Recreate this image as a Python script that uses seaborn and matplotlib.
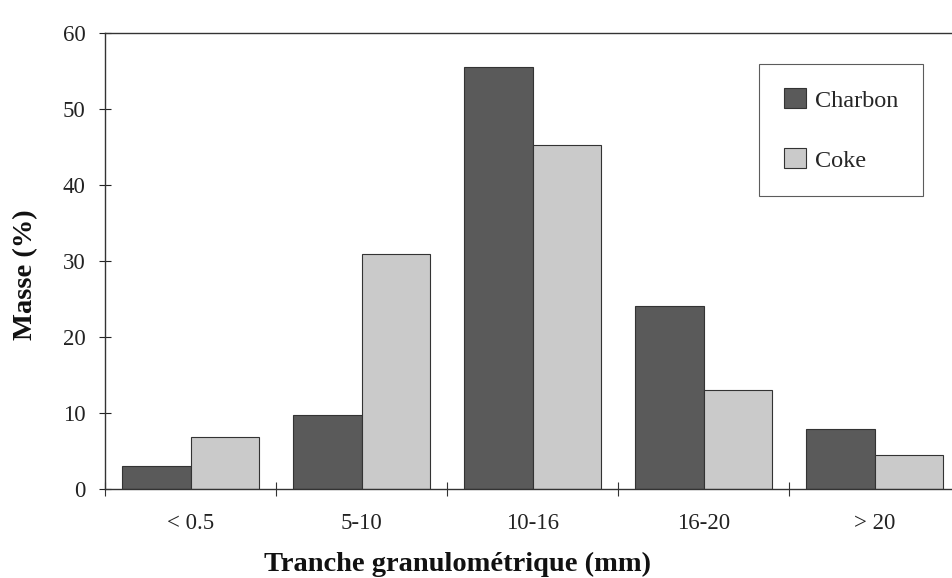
import matplotlib
matplotlib.use("Agg")
import matplotlib.pyplot as plt
import seaborn as sns
import pandas as pd

categories = ["< 0.5", "5-10", "10-16", "16-20", "> 20"]
charbon = [3.0, 9.7, 55.5, 24.1, 7.9]
coke = [6.8, 30.9, 45.3, 13.0, 4.5]
series = ["Charbon", "Coke"]

df = pd.DataFrame({
    "cat": categories * 2,
    "val": charbon + coke,
    "serie": [series[0]] * len(categories) + [series[1]] * len(categories),
})

sns.set_theme(style="white")
plt.rcParams["font.family"] = ["Liberation Serif", "DejaVu Serif"]

fig = plt.figure(figsize=(9.52, 5.78), dpi=100)
ax = fig.add_axes([105/952, 1-489/578, (960-105)/952, (489-33)/578])

sns.barplot(data=df, x="cat", y="val", hue="serie", order=categories,
            hue_order=series, palette=["#5a5a5a", "#cacaca"], width=0.8,
            edgecolor="#333333", linewidth=0.8, saturation=1, ax=ax,
            legend=True)

ax.set_ylim(0, 60)
ax.set_xlim(-0.5, 4.5)
ax.set_yticks([0, 10, 20, 30, 40, 50, 60])
ax.tick_params(axis="y", direction="inout", length=8, width=0.8, labelsize=16.5,
               colors="#222222", left=True, pad=10)
ax.set_xticks(range(len(categories)))
ax.set_xticklabels(categories)
ax.tick_params(axis="x", length=0, labelsize=16.5, pad=17, colors="#222222")
ax.set_xticks([i - 0.5 for i in range(len(categories) + 1)], minor=True)
ax.tick_params(axis="x", which="minor", direction="inout", length=10, width=0.8,
               bottom=True, color="#333333")

for s in ["left", "bottom", "top"]:
    ax.spines[s].set_visible(True)
    ax.spines[s].set_color("#333333")
    ax.spines[s].set_linewidth(1.0)
ax.spines["right"].set_visible(False)

ax.set_xlabel("Tranche granulométrique (mm)", fontsize=20.5, fontweight="bold",
              color="#111111", va="center")
ax.xaxis.set_label_coords((458-105)/855, (489-564)/456)
ax.set_ylabel("Masse (%)", fontsize=20.5, fontweight="bold", color="#111111")
ax.yaxis.set_label_coords((38-105)/855, (489-275)/456)

leg = ax.legend(loc="upper right", bbox_to_anchor=((923-105)/855, 1-(64-33)/456),
                fontsize=17.5, frameon=True, fancybox=False, edgecolor="#333333",
                handlelength=0.9, handleheight=0.9, labelspacing=1.5,
                borderpad=1.0, handletextpad=0.4, borderaxespad=0)
leg.get_frame().set_linewidth(0.8)

fig.savefig("out.png", dpi=100)
